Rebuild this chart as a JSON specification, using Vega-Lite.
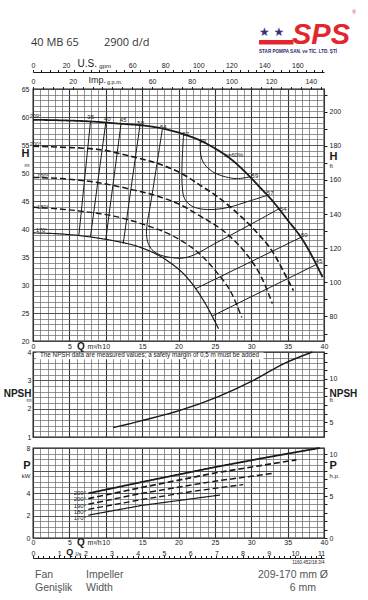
{
"$schema": "https://vega.github.io/schema/vega-lite/v6.json",
"padding": {"left": 2, "top": 5, "right": 2, "bottom": 2},
"background": "white",
"spacing": 11,
"bounds": "flush",
"config": {
  "view": {"stroke": "#1a1a1a", "strokeWidth": 1.3},
  "axis": {"labelFont": "Liberation Sans", "labelFontSize": 7, "labelColor": "#1a1a1a", "labelOverlap": false, "labelFlush": false, "labelBound": false, "tickColor": "#1a1a1a", "domainColor": "#1a1a1a", "titleColor": "#1a1a1a", "grid": false, "domain": false, "ticks": false},
  "text": {"font": "Liberation Sans", "color": "#1a1a1a"},
  "line": {"color": "#1a1a1a"}
},
"datasets": {
  "hc": [
    {"d":"209","q":0,"h":59.5},{"d":"209","q":4,"h":59.4},{"d":"209","q":8,"h":59.2},{"d":"209","q":12,"h":58.8},{"d":"209","q":15,"h":58.5},{"d":"209","q":18,"h":57.9},{"d":"209","q":21,"h":56.8},{"d":"209","q":23,"h":55.8},{"d":"209","q":25,"h":54.4},{"d":"209","q":27,"h":52.7},{"d":"209","q":29,"h":50.4},{"d":"209","q":31,"h":47.7},{"d":"209","q":33,"h":44.9},{"d":"209","q":35,"h":41.6},{"d":"209","q":37,"h":38.2},{"d":"209","q":38.5,"h":34.8},{"d":"209","q":39.8,"h":31.4},
    {"d":"200","q":0,"h":54.8},{"d":"200","q":4,"h":54.6},{"d":"200","q":9,"h":54.2},{"d":"200","q":13.4,"h":53.0},{"d":"200","q":18,"h":51.3},{"d":"200","q":20.3,"h":50.0},{"d":"200","q":23,"h":47.8},{"d":"200","q":25,"h":46.1},{"d":"200","q":27.6,"h":43.4},{"d":"200","q":30.4,"h":39.9},{"d":"200","q":33.1,"h":35.6},{"d":"200","q":34.6,"h":32.0},{"d":"200","q":35.8,"h":29.0},
    {"d":"190","q":0,"h":49.2},{"d":"190","q":4,"h":49.0},{"d":"190","q":8.85,"h":48.3},{"d":"190","q":13.4,"h":47.1},{"d":"190","q":18,"h":45.5},{"d":"190","q":20.3,"h":44.3},{"d":"190","q":23,"h":42.3},{"d":"190","q":26.5,"h":39.3},{"d":"190","q":29.3,"h":35.6},{"d":"190","q":31.4,"h":31.4},{"d":"190","q":32.9,"h":26.7},
    {"d":"180","q":0,"h":43.9},{"d":"180","q":6.5,"h":43.2},{"d":"180","q":11.1,"h":42.3},{"d":"180","q":15.7,"h":40.6},{"d":"180","q":18,"h":39.5},{"d":"180","q":20.3,"h":38.0},{"d":"180","q":22.6,"h":35.9},{"d":"180","q":25.3,"h":32.2},{"d":"180","q":27.3,"h":28.5},{"d":"180","q":28.7,"h":24.2},
    {"d":"170","q":0,"h":39.3},{"d":"170","q":4,"h":39.1},{"d":"170","q":6.55,"h":38.8},{"d":"170","q":9.3,"h":38.3},{"d":"170","q":11.1,"h":37.9},{"d":"170","q":14.8,"h":36.7},{"d":"170","q":18.5,"h":34.3},{"d":"170","q":21.2,"h":31.3},{"d":"170","q":23.5,"h":27.1},{"d":"170","q":25.5,"h":22.2}
  ],
  "iso": [
    {"e":"35","i":0,"q":7.9,"h":59.2},{"e":"35","i":1,"q":6.3,"h":38.8},
    {"e":"40","i":0,"q":10.0,"h":59.0},{"e":"40","i":1,"q":7.9,"h":38.6},
    {"e":"45","i":0,"q":12.1,"h":58.8},{"e":"45","i":1,"q":10.0,"h":38.1},
    {"e":"50","i":0,"q":14.7,"h":58.5},{"e":"50","i":1,"q":12.4,"h":37.4},
    {"e":"54","i":0,"q":17.8,"h":58.0},{"e":"54","i":1,"q":16.9,"h":50.5},{"e":"54","i":2,"q":16.1,"h":44},{"e":"54","i":3,"q":15.7,"h":41},{"e":"54","i":4,"q":15.6,"h":39},{"e":"54","i":5,"q":15.9,"h":37.2},{"e":"54","i":6,"q":16.6,"h":36},{"e":"54","i":7,"q":17.6,"h":35.3},{"e":"54","i":8,"q":19,"h":34.9},{"e":"54","i":9,"q":20.5,"h":34.8},{"e":"54","i":10,"q":22,"h":35.3},{"e":"54","i":11,"q":25,"h":37.4},{"e":"54","i":12,"q":29.6,"h":40.6},{"e":"54","i":13,"q":33.8,"h":43.6},
    {"e":"57","i":0,"q":20.7,"h":56.9},{"e":"57","i":1,"q":20.5,"h":52},{"e":"57","i":2,"q":20.5,"h":48},{"e":"57","i":3,"q":20.8,"h":45.5},{"e":"57","i":4,"q":21.7,"h":44.2},{"e":"57","i":5,"q":23,"h":43.6},{"e":"57","i":6,"q":25,"h":43.5},{"e":"57","i":7,"q":27,"h":43.9},{"e":"57","i":8,"q":29.5,"h":44.9},{"e":"57","i":9,"q":32.2,"h":46.0},
    {"e":"59","i":0,"q":23.0,"h":55.9},{"e":"59","i":1,"q":23.0,"h":54},{"e":"59","i":2,"q":23.2,"h":52.5},{"e":"59","i":3,"q":23.8,"h":51.2},{"e":"59","i":4,"q":25,"h":50},{"e":"59","i":5,"q":26.5,"h":49.3},{"e":"59","i":6,"q":28,"h":49},{"e":"59","i":7,"q":29.8,"h":49.3},
    {"e":"50r","i":0,"q":36.8,"h":38.5},{"e":"50r","i":1,"q":22.3,"h":29.3},
    {"e":"45r","i":0,"q":38.85,"h":33.6},{"e":"45r","i":1,"q":24.7,"h":24.5}
  ],
  "hdl": [
    {"t":"209°","q":-0.45,"h":60.25},{"t":"200°","q":-0.45,"h":55.2},{"t":"190°","q":0.6,"h":49.4},{"t":"180°","q":0.6,"h":44.0},{"t":"170°","q":0.4,"h":39.9}
  ],
  "hil": [
    {"t":"35","q":7.93,"h":60.0},{"t":"40","q":10.2,"h":59.6},{"t":"45","q":12.4,"h":59.4},{"t":"50","q":14.8,"h":59.0},{"t":"54","q":17.9,"h":58.2},{"t":"57","q":21.0,"h":57.0},{"t":"59","q":23.3,"h":55.7},
    {"t":"59","q":30.5,"h":49.4},{"t":"57","q":32.6,"h":46.5},{"t":"54","q":34.4,"h":43.5},{"t":"50","q":37.3,"h":38.9},{"t":"45","q":39.3,"h":34.2},
    {"t":"η=60%","q":27.6,"h":53.2}
  ],
  "np": [
    {"q":11,"n":1.33},{"q":13,"n":1.45},{"q":15.15,"n":1.59},{"q":20.2,"n":1.94},{"q":25.3,"n":2.41},{"q":30.3,"n":3.0},{"q":34.5,"n":3.59},{"q":38.4,"n":4.0}
  ],
  "pc": [
    {"d":"209","q":7.6,"p":3.97},{"d":"209","q":15,"p":4.98},{"d":"209","q":25,"p":6.3},{"d":"209","q":32,"p":7.15},{"d":"209","q":39.4,"p":8.0},
    {"d":"200","q":7.6,"p":3.5},{"d":"200","q":15,"p":4.5},{"d":"200","q":25,"p":5.78},{"d":"200","q":36.2,"p":6.95},
    {"d":"190","q":7.6,"p":3.0},{"d":"190","q":15,"p":3.98},{"d":"190","q":25,"p":5.05},{"d":"190","q":33,"p":5.75},
    {"d":"180","q":7.6,"p":2.55},{"d":"180","q":15,"p":3.42},{"d":"180","q":22,"p":4.15},{"d":"180","q":28.9,"p":4.75},
    {"d":"170","q":7.6,"p":2.03},{"d":"170","q":15,"p":2.9},{"d":"170","q":25.7,"p":3.82}
  ],
  "pdl": [
    {"t":"209°","q":7.3,"p":3.97},{"t":"200°","q":7.3,"p":3.43},{"t":"190°","q":7.3,"p":2.86},{"t":"180°","q":7.3,"p":2.3},{"t":"170°","q":7.3,"p":1.75}
  ]
},
"vconcat": [
  {
    "width": 291, "height": 73,
    "view": {"stroke": null, "fill": "white"},
    "data": {"values": [{}]},
    "layer": [
      {"mark": {"type": "text", "text": "40 MB 65", "align": "left", "baseline": "middle", "font": "Open Sans", "fontSize": 11, "color": "#333"},
       "encoding": {"x": {"datum": -0.27, "type": "quantitative", "scale": {"domain": [0, 40], "nice": false, "zero": false}, "axis": null},
                    "y": {"datum": 0.486, "type": "quantitative", "scale": {"domain": [0, 1], "nice": false, "zero": false}, "axis": null}}},
      {"mark": {"type": "text", "text": "2900 d/d", "align": "left", "baseline": "middle", "font": "Open Sans", "fontSize": 11, "color": "#333"},
       "encoding": {"x": {"datum": 9.76, "type": "quantitative"}, "y": {"datum": 0.486, "type": "quantitative"}}},
      {"mark": {"type": "rect", "color": "#e3262d"},
       "encoding": {"x": {"datum": 31.07, "type": "quantitative"}, "x2": {"datum": 35.8}, "y": {"datum": 0.521, "type": "quantitative"}, "y2": {"datum": 0.46}}},
      {"mark": {"type": "text", "text": "★ ★", "align": "left", "baseline": "middle", "font": "DejaVu Sans", "fontSize": 12, "color": "#3d2b80"},
       "encoding": {"x": {"datum": 31.07, "type": "quantitative"}, "y": {"datum": 0.63, "type": "quantitative"}}},
      {"mark": {"type": "text", "text": "SPS", "align": "left", "baseline": "alphabetic", "font": "Liberation Sans Narrow, Liberation Sans", "fontSize": 29, "fontWeight": "bold", "fontStyle": "italic", "color": "#e3262d"},
       "encoding": {"x": {"datum": 35.6, "type": "quantitative"}, "y": {"datum": 0.47, "type": "quantitative"}}},
      {"mark": {"type": "text", "text": "®", "align": "left", "baseline": "middle", "fontSize": 5, "color": "#e3262d"},
       "encoding": {"x": {"datum": 43.9, "type": "quantitative"}, "y": {"datum": 0.9, "type": "quantitative"}}},
      {"mark": {"type": "text", "text": "STAR POMPA SAN. ve TİC. LTD. ŞTİ", "align": "left", "baseline": "middle", "fontSize": 4.6, "fontWeight": "bold", "color": "#2b2b6b"},
       "encoding": {"x": {"datum": 31.07, "type": "quantitative"}, "y": {"datum": 0.356, "type": "quantitative"}}}
    ]
  },
  {
    "width": 291, "height": 252,
    "layer": [
      {"data": {"name": "hc"},
       "mark": {"type": "line", "interpolate": "monotone", "color": "#1a1a1a"},
       "encoding": {
         "x": {"field": "q", "type": "quantitative", "scale": {"domain": [0, 40], "nice": false, "zero": false},
               "axis": {"orient": "bottom", "title": null, "grid": true,
                        "values": [0,1,2,3,4,5,6,7,8,9,10,11,12,13,14,15,16,17,18,19,20,21,22,23,24,25,26,27,28,29,30,31,32,33,34,35,36,37,38,39,40,6.5,8.4],
                        "labelExpr": "datum.value == 6.5 ? 'Q' : datum.value == 8.4 ? 'm³/h' : datum.value % 5 == 0 ? datum.label : ''",
                        "labelBaseline": "middle", "labelPadding": 5,
                        "labelFontSize": {"condition": {"test": "datum.value == 6.5", "value": 10}, "value": 7},
                        "labelFontWeight": {"condition": {"test": "datum.value == 6.5", "value": "bold"}, "value": "normal"},
                        "gridColor": {"condition": {"test": "datum.value % 5 == 0", "value": "#333"}, "value": "#666"},
                        "gridWidth": {"condition": {"test": "datum.value % 5 == 0", "value": 1.1}, "value": 0.7},
                        "gridOpacity": {"condition": {"test": "datum.value % 1 != 0", "value": 0}, "value": 1}}},
         "y": {"field": "h", "type": "quantitative", "scale": {"domain": [20, 65], "nice": false, "zero": false},
               "axis": {"orient": "left", "title": null, "grid": true,
                        "values": [20,21,22,23,24,25,26,27,28,29,30,31,32,33,34,35,36,37,38,39,40,41,42,43,44,45,46,47,48,49,50,51,52,53,54,55,56,57,58,59,60,61,62,63,64,65,53.4,51.6],
                        "labelExpr": "datum.value == 53.4 ? 'H' : datum.value == 51.6 ? 'm' : datum.value % 5 == 0 ? datum.label : ''",
                        "labelPadding": 4,
                        "labelFontSize": {"condition": [{"test": "datum.value == 53.4", "value": 11}, {"test": "datum.value == 51.6", "value": 6}], "value": 7},
                        "labelFontWeight": {"condition": {"test": "datum.value == 53.4", "value": "bold"}, "value": "normal"},
                        "gridColor": {"condition": {"test": "datum.value % 5 == 0", "value": "#444"}, "value": "#666"},
                        "gridWidth": {"condition": {"test": "datum.value % 5 == 0", "value": 0.9}, "value": 0.7},
                        "gridOpacity": {"condition": {"test": "datum.value % 1 != 0", "value": 0}, "value": 1}}},
         "strokeDash": {"field": "d", "type": "nominal", "scale": {"domain": ["209","200","190","180","170"], "range": [[1,0],[6,3],[6,3],[6,3],[1,0]]}, "legend": null},
         "strokeWidth": {"field": "d", "type": "nominal", "scale": {"domain": ["209","200","190","180","170"], "range": [1.8,1.2,1.2,1.2,1.4]}, "legend": null}
       }},
      {"data": {"name": "iso"},
       "mark": {"type": "line", "interpolate": "catmull-rom", "color": "#1a1a1a", "strokeWidth": 1},
       "encoding": {
         "x": {"field": "q", "type": "quantitative", "scale": {"domain": [0, 40], "nice": false, "zero": false},
               "axis": {"orient": "top", "title": null, "ticks": true, "tickSize": 2.5,
                        "values": [0,1.36383,2.72766,4.09149,5.45532,6.81915,8.18298,9.54681,10.91064,12.27447,13.6383,15.00213,16.36596,17.72979,19.09362,20.45745,21.82128,23.18511,24.54894,25.91277,27.2766,28.64043,30.00426,31.36809,32.73192,34.09575,35.45958,36.82341,38.18724,39.55107,8.75,11.15],
                        "labelExpr": "datum.value == 8.75 ? 'Imp.' : datum.value == 11.15 ? 'g.p.m.' : (round(datum.value*3.66615) % 20 == 0 && round(datum.value*3.66615) != 40) ? format(round(datum.value*3.66615), 'd') : ''",
                        "labelPadding": 2,
                        "labelFontSize": {"condition": [{"test": "datum.value == 8.75", "value": 9}, {"test": "datum.value == 11.15", "value": 5.5}], "value": 7},
                        "tickOpacity": {"condition": {"test": "datum.value == 8.75 || datum.value == 11.15", "value": 0}, "value": 1}}},
         "y": {"field": "h", "type": "quantitative", "scale": {"domain": [20, 65], "nice": false, "zero": false},
               "axis": {"orient": "right", "title": null, "ticks": true, "tickSize": 3,
                        "values": [21.336,24.384,27.432,30.48,33.528,36.576,39.624,42.672,45.72,48.768,51.816,54.864,57.912,60.96,64.008,53.0,51.3],
                        "labelExpr": "datum.value == 53.0 ? 'H' : datum.value == 51.3 ? 'ft' : (round(datum.value/0.3048) % 20 == 0 && datum.value > 22 && datum.value < 62) ? format(round(datum.value/0.3048), 'd') : ''",
                        "labelPadding": 2,
                        "labelFontSize": {"condition": [{"test": "datum.value == 53.0", "value": 11}, {"test": "datum.value == 51.3", "value": 6}], "value": 7},
                        "labelFontWeight": {"condition": {"test": "datum.value == 53.0", "value": "bold"}, "value": "normal"},
                        "tickOpacity": {"condition": {"test": "datum.value == 53.0 || datum.value == 51.3", "value": 0}, "value": 1}}},
         "detail": {"field": "e"},
         "order": {"field": "i", "type": "quantitative"}
       }},
      {"data": {"name": "hdl"},
       "mark": {"type": "text", "align": "left", "baseline": "middle", "fontSize": 5.5},
       "encoding": {
         "x": {"field": "q", "type": "quantitative", "scale": {"domain": [0, 40], "nice": false, "zero": false},
               "axis": {"orient": "top", "offset": 17, "title": null, "domain": true, "domainWidth": 1, "ticks": true, "tickSize": 2.5,
                        "values": [0,1.13563,2.27125,3.40688,4.5425,5.67813,6.81375,7.94938,9.085,10.22063,11.35625,12.49188,13.6275,14.76313,15.89875,17.03438,18.17,19.30563,20.44125,21.57688,22.7125,23.84813,24.98375,26.11938,27.255,28.39063,29.52625,30.66188,31.7975,32.93313,34.06875,35.20438,36.34,37.47563,38.61125,39.74688,7.4,9.85],
                        "labelExpr": "datum.value == 7.4 ? 'U.S.' : datum.value == 9.85 ? 'gpm' : (round(datum.value*4.40287) % 20 == 0 && round(datum.value*4.40287) != 40) ? format(round(datum.value*4.40287), 'd') : ''",
                        "labelPadding": 1,
                        "labelFontSize": {"condition": [{"test": "datum.value == 7.4", "value": 10}, {"test": "datum.value == 9.85", "value": 6}], "value": 7},
                        "tickOpacity": {"condition": {"test": "datum.value == 7.4 || datum.value == 9.85", "value": 0}, "value": 1}}},
         "y": {"field": "h", "type": "quantitative", "scale": {"domain": [20, 65], "nice": false, "zero": false}, "axis": null},
         "text": {"field": "t"}
       }},
      {"data": {"name": "hil"},
       "mark": {"type": "text", "align": "center", "baseline": "middle", "fontSize": 6},
       "encoding": {
         "x": {"field": "q", "type": "quantitative", "scale": {"domain": [0, 40], "nice": false, "zero": false}, "axis": null},
         "y": {"field": "h", "type": "quantitative", "scale": {"domain": [20, 65], "nice": false, "zero": false}, "axis": null},
         "text": {"field": "t"}
       }}
    ],
    "resolve": {"axis": {"x": "independent", "y": "independent"}}
  },
  {
    "width": 291, "height": 85,
    "layer": [
      {"data": {"name": "np"},
       "mark": {"type": "line", "interpolate": "monotone", "color": "#1a1a1a", "strokeWidth": 1.4},
       "encoding": {
         "x": {"field": "q", "type": "quantitative", "scale": {"domain": [0, 40], "nice": false, "zero": false},
               "axis": {"orient": "bottom", "title": null, "grid": true, "labels": false,
                        "values": [0,1,2,3,4,5,6,7,8,9,10,11,12,13,14,15,16,17,18,19,20,21,22,23,24,25,26,27,28,29,30,31,32,33,34,35,36,37,38,39,40],
                        "gridColor": {"condition": {"test": "datum.value % 5 == 0", "value": "#333"}, "value": "#666"},
                        "gridWidth": {"condition": {"test": "datum.value % 5 == 0", "value": 1.1}, "value": 0.7}}},
         "y": {"field": "n", "type": "quantitative", "scale": {"domain": [1, 4], "nice": false, "zero": false},
               "axis": {"orient": "left", "title": null, "grid": true,
                        "values": [1,1.2,1.4,1.6,1.8,2,2.2,2.4,2.6,2.8,3,3.2,3.4,3.6,3.8,4,2.55,2.32],
                        "labelExpr": "datum.value == 2.55 ? 'NPSH' : datum.value == 2.32 ? 'm' : datum.value % 1 == 0 ? format(datum.value, 'd') : ''",
                        "labelPadding": 2,
                        "labelFontSize": {"condition": [{"test": "datum.value == 2.55", "value": 10}, {"test": "datum.value == 2.32", "value": 6}], "value": 7},
                        "labelFontWeight": {"condition": {"test": "datum.value == 2.55", "value": "bold"}, "value": "normal"},
                        "gridColor": {"condition": {"test": "datum.value % 1 == 0", "value": "#444"}, "value": "#666"},
                        "gridWidth": {"condition": {"test": "datum.value % 1 == 0", "value": 0.9}, "value": 0.7},
                        "gridOpacity": {"condition": {"test": "datum.value == 2.55 || datum.value == 2.32", "value": 0}, "value": 1}}}
       }},
      {"data": {"values": [{}]},
       "mark": {"type": "rect", "color": "white"},
       "encoding": {
         "x": {"datum": 0.45, "type": "quantitative", "scale": {"domain": [0, 40], "nice": false, "zero": false}, "axis": null},
         "x2": {"datum": 31.7},
         "y": {"datum": 3.74, "type": "quantitative", "scale": {"domain": [1, 4], "nice": false, "zero": false},
               "axis": {"orient": "right", "title": null, "ticks": true, "tickSize": 3,
                        "values": [1.2192,1.524,1.8288,2.1336,2.4384,2.7432,3.048,3.3528,3.6576,3.9624,2.55,2.32],
                        "labelExpr": "datum.value == 2.55 ? 'NPSH' : datum.value == 2.32 ? 'ft' : (round(datum.value/0.3048) == 5 || round(datum.value/0.3048) == 10) ? format(round(datum.value/0.3048), 'd') : ''",
                        "labelPadding": 2,
                        "labelFontSize": {"condition": [{"test": "datum.value == 2.55", "value": 10}, {"test": "datum.value == 2.32", "value": 6}], "value": 7},
                        "labelFontWeight": {"condition": {"test": "datum.value == 2.55", "value": "bold"}, "value": "normal"},
                        "tickOpacity": {"condition": {"test": "datum.value == 2.55 || datum.value == 2.32", "value": 0}, "value": 1}}},
         "y2": {"datum": 3.985}
       }},
      {"data": {"values": [{}]},
       "mark": {"type": "text", "text": "The NPSH data are measured values; a safety margin of 0,5 m must be added", "align": "left", "baseline": "middle", "fontSize": 6.3},
       "encoding": {
         "x": {"datum": 0.96, "type": "quantitative", "scale": {"domain": [0, 40], "nice": false, "zero": false}, "axis": null},
         "y": {"datum": 3.88, "type": "quantitative", "scale": {"domain": [1, 4], "nice": false, "zero": false}, "axis": null}
       }}
    ],
    "resolve": {"axis": {"x": "independent", "y": "independent"}}
  },
  {
    "width": 291, "height": 90,
    "layer": [
      {"data": {"name": "pc"},
       "mark": {"type": "line", "color": "#1a1a1a"},
       "encoding": {
         "x": {"field": "q", "type": "quantitative", "scale": {"domain": [0, 40], "nice": false, "zero": false},
               "axis": {"orient": "bottom", "title": null, "grid": true,
                        "values": [0,1,2,3,4,5,6,7,8,9,10,11,12,13,14,15,16,17,18,19,20,21,22,23,24,25,26,27,28,29,30,31,32,33,34,35,36,37,38,39,40,6.5,8.4],
                        "labelExpr": "datum.value == 6.5 ? 'Q' : datum.value == 8.4 ? 'm³/h' : datum.value % 5 == 0 ? datum.label : ''",
                        "labelBaseline": "middle", "labelPadding": 4,
                        "labelFontSize": {"condition": {"test": "datum.value == 6.5", "value": 10}, "value": 7},
                        "labelFontWeight": {"condition": {"test": "datum.value == 6.5", "value": "bold"}, "value": "normal"},
                        "gridColor": {"condition": {"test": "datum.value % 5 == 0", "value": "#333"}, "value": "#666"},
                        "gridWidth": {"condition": {"test": "datum.value % 5 == 0", "value": 1.1}, "value": 0.7},
                        "gridOpacity": {"condition": {"test": "datum.value % 1 != 0", "value": 0}, "value": 1}}},
         "y": {"field": "p", "type": "quantitative", "scale": {"domain": [0, 8], "nice": false, "zero": false},
               "axis": {"orient": "left", "title": null, "grid": true,
                        "values": [0,0.5,1,1.5,2,2.5,3,3.5,4,4.5,5,5.5,6,6.5,7,7.5,8,6.45,5.6],
                        "labelExpr": "datum.value == 6.45 ? 'P' : datum.value == 5.6 ? 'kW' : (datum.value == 0 || datum.value == 2 || datum.value == 4 || datum.value == 8) ? format(datum.value, 'd') : ''",
                        "labelPadding": 3,
                        "labelFontSize": {"condition": [{"test": "datum.value == 6.45", "value": 11}, {"test": "datum.value == 5.6", "value": 6}], "value": 7},
                        "labelFontWeight": {"condition": {"test": "datum.value == 6.45", "value": "bold"}, "value": "normal"},
                        "gridColor": {"condition": {"test": "datum.value % 2 == 0", "value": "#444"}, "value": "#666"},
                        "gridWidth": {"condition": {"test": "datum.value % 2 == 0", "value": 0.9}, "value": 0.7},
                        "gridOpacity": {"condition": {"test": "datum.value == 6.45 || datum.value == 5.6", "value": 0}, "value": 1}}},
         "strokeDash": {"field": "d", "type": "nominal", "scale": {"domain": ["209","200","190","180","170"], "range": [[1,0],[6,3],[6,3],[6,3],[1,0]]}, "legend": null},
         "strokeWidth": {"field": "d", "type": "nominal", "scale": {"domain": ["209","200","190","180","170"], "range": [1.5,1.3,1.3,1.3,1.3]}, "legend": null}
       }},
      {"data": {"name": "pdl"},
       "mark": {"type": "text", "align": "right", "baseline": "middle", "fontSize": 6},
       "encoding": {
         "x": {"field": "q", "type": "quantitative", "scale": {"domain": [0, 40], "nice": false, "zero": false},
               "axis": {"orient": "bottom", "offset": 20, "title": "1160.452/18.3/4", "titleFontSize": 4.5, "titleFontWeight": "normal", "titleAnchor": "end", "titlePadding": 1,
                        "domain": true, "domainWidth": 1, "ticks": true, "tickSize": -2.5,
                        "values": [0,0.72,1.44,2.16,2.88,3.6,4.32,5.04,5.76,6.48,7.2,7.92,8.64,9.36,10.08,10.8,11.52,12.24,12.96,13.68,14.4,15.12,15.84,16.56,17.28,18,18.72,19.44,20.16,20.88,21.6,22.32,23.04,23.76,24.48,25.2,25.92,26.64,27.36,28.08,28.8,29.52,30.24,30.96,31.68,32.4,33.12,33.84,34.56,35.28,36,36.72,37.44,38.16,38.88,39.6,4.968,6.192],
                        "labelExpr": "datum.value == 4.968 ? 'Q' : datum.value == 6.192 ? 'l/s' : abs(datum.value/3.6 - round(datum.value/3.6)) < 0.01 ? format(round(datum.value/3.6), 'd') : ''",
                        "labelBaseline": "bottom", "labelPadding": 0.5,
                        "labelFontSize": {"condition": [{"test": "datum.value == 4.968", "value": 9}, {"test": "datum.value == 6.192", "value": 6}], "value": 7},
                        "labelFontWeight": {"condition": {"test": "datum.value == 4.968", "value": "bold"}, "value": "normal"},
                        "tickOpacity": {"condition": {"test": "datum.value == 4.968 || datum.value == 6.192", "value": 0}, "value": 1}}},
         "y": {"field": "p", "type": "quantitative", "scale": {"domain": [0, 8], "nice": false, "zero": false},
               "axis": {"orient": "right", "title": null, "ticks": true, "tickSize": 3,
                        "values": [0,0.7457,1.4914,2.2371,2.9828,3.7285,4.4742,5.2199,5.9656,6.7113,7.457,6.45,5.6],
                        "labelExpr": "datum.value == 6.45 ? 'P' : datum.value == 5.6 ? 'h.p.' : (datum.value == 0 || datum.value == 3.7285 || datum.value == 7.457) ? format(round(datum.value/0.7457), 'd') : ''",
                        "labelPadding": 2,
                        "labelFontSize": {"condition": [{"test": "datum.value == 6.45", "value": 11}, {"test": "datum.value == 5.6", "value": 6}], "value": 7},
                        "labelFontWeight": {"condition": {"test": "datum.value == 6.45", "value": "bold"}, "value": "normal"},
                        "tickOpacity": {"condition": {"test": "datum.value == 6.45 || datum.value == 5.6", "value": 0}, "value": 1}}},
         "text": {"field": "t"}
       }}
    ],
    "resolve": {"axis": {"x": "independent", "y": "independent"}}
  },
  {
    "width": 291, "height": 45,
    "view": {"stroke": null},
    "data": {"values": [{}]},
    "layer": [
      {"mark": {"type": "text", "text": "Fan", "align": "left", "baseline": "middle", "fontSize": 10.5, "color": "#555"},
       "encoding": {"x": {"datum": 0.27, "type": "quantitative", "scale": {"domain": [0, 40], "nice": false, "zero": false}, "axis": null},
                    "y": {"datum": 0.422, "type": "quantitative", "scale": {"domain": [0, 1], "nice": false, "zero": false}, "axis": null}}},
      {"mark": {"type": "text", "text": "Impeller", "align": "left", "baseline": "middle", "fontSize": 10.5, "color": "#555"},
       "encoding": {"x": {"datum": 7.29, "type": "quantitative"}, "y": {"datum": 0.422, "type": "quantitative"}}},
      {"mark": {"type": "text", "text": "209-170 mm Ø", "align": "right", "baseline": "middle", "fontSize": 10.5, "color": "#555"},
       "encoding": {"x": {"datum": 40.55, "type": "quantitative"}, "y": {"datum": 0.422, "type": "quantitative"}}},
      {"mark": {"type": "text", "text": "Genişlik", "align": "left", "baseline": "middle", "fontSize": 10.5, "color": "#555"},
       "encoding": {"x": {"datum": 0.27, "type": "quantitative"}, "y": {"datum": 0.133, "type": "quantitative"}}},
      {"mark": {"type": "text", "text": "Width", "align": "left", "baseline": "middle", "fontSize": 10.5, "color": "#555"},
       "encoding": {"x": {"datum": 7.29, "type": "quantitative"}, "y": {"datum": 0.133, "type": "quantitative"}}},
      {"mark": {"type": "text", "text": "6 mm", "align": "right", "baseline": "middle", "fontSize": 10.5, "color": "#555"},
       "encoding": {"x": {"datum": 38.9, "type": "quantitative"}, "y": {"datum": 0.133, "type": "quantitative"}}}
    ]
  }
]
}
